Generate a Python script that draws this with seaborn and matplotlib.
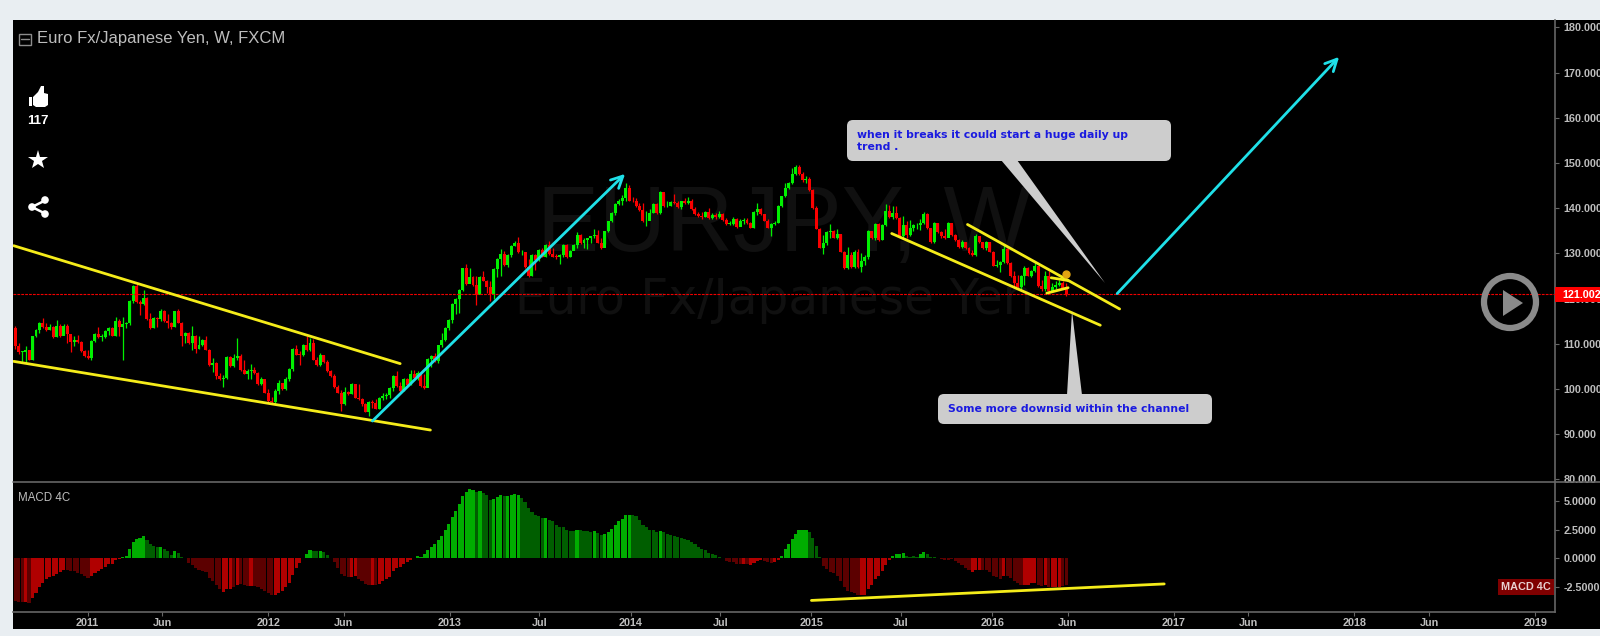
#!/bin/python
import datetime as dt
import pandas as pd
import matplotlib
matplotlib.use('Agg')
from matplotlib import pyplot as plt
from matplotlib import dates as mdates
from matplotlib.patches import FancyBboxPatch, Rectangle, Polygon, Ellipse, Circle
import seaborn as sns

sns.set_theme(style='dark')
plt.rcParams['font.family'] = ['Liberation Sans', 'DejaVu Sans']

# Weekly EUR/JPY bars
first_week = '2010-08-08'
first_open = 113.5
closes = [
	109.5,108.2,108.2,108.7,106.5,111.7,113.1,114.6,113.7,113.1,
	113.7,111.5,113.9,111.7,114.0,112.2,110.4,110.9,110.4,108.4,
	107.3,106.9,110.7,112.2,111.5,111.5,112.9,113.5,111.8,115.1,
	113.7,114.3,114.5,119.4,122.7,119.3,118.7,120.1,115.4,113.4,
	115.7,115.4,117.3,115.0,114.6,113.7,117.2,114.6,111.7,112.4,
	110.2,111.8,108.9,109.8,110.9,108.7,105.3,105.8,102.8,102.1,
	102.5,107.0,105.0,106.9,107.3,104.3,103.4,103.9,104.3,103.6,
	101.0,102.2,99.2,97.3,97.1,99.5,101.4,99.9,102.3,104.5,
	108.9,107.6,107.5,109.7,108.7,110.2,106.5,105.2,107.6,106.0,
	103.9,102.8,100.4,99.2,96.6,99.4,98.9,101.0,98.0,97.7,
	96.6,95.0,97.2,96.9,95.6,98.0,98.4,98.6,100.3,102.8,
	100.6,99.5,102.2,100.8,103.2,102.5,103.6,100.6,100.3,106.7,
	107.3,106.1,109.7,110.9,113.5,115.2,118.9,119.8,122.0,126.7,
	123.3,124.8,122.9,120.9,124.7,124.0,122.6,121.1,126.6,128.8,
	129.9,127.5,129.7,131.7,132.4,130.2,130.2,127.0,124.9,129.7,
	128.6,130.8,129.3,131.9,129.9,129.3,129.2,129.7,131.9,129.2,
	130.6,131.9,134.1,132.3,133.0,133.4,133.8,134.1,132.4,131.2,
	134.9,137.1,138.9,140.9,141.7,142.2,144.4,141.7,141.5,140.4,
	139.5,137.1,137.2,138.9,141.0,138.9,143.6,140.4,140.5,141.4,
	141.1,140.2,141.5,141.1,141.7,139.8,138.8,138.2,138.0,139.1,
	137.8,138.5,138.0,138.7,137.4,136.6,136.6,137.7,135.8,137.1,
	137.4,136.7,135.7,139.1,139.9,138.7,137.2,135.7,136.5,136.8,
	140.6,142.6,144.4,145.5,147.5,149.2,147.5,146.3,146.5,144.1,
	140.0,135.4,131.3,132.3,134.7,135.0,133.5,134.3,130.4,126.8,
	129.7,126.9,130.3,126.9,128.4,129.1,135.0,133.4,136.5,133.0,
	136.2,139.4,138.0,138.9,137.8,133.8,136.3,134.1,135.7,136.2,
	136.2,136.7,138.7,135.6,132.5,136.7,134.7,133.8,133.5,136.7,
	134.1,133.0,131.5,132.5,131.3,130.1,129.7,133.8,132.5,131.2,
	132.5,130.4,127.3,127.5,128.1,131.0,127.9,124.9,123.4,122.5,
	124.9,126.8,125.1,126.0,127.1,122.7,122.2,125.1,121.7,122.5,
	123.1,123.4,122.3,121.0]
highs = [
	113.9,110.2,108.5,109.4,108.7,111.8,113.3,114.8,115.6,114.6,
	114.3,113.9,115.2,114.3,114.3,114.4,111.7,111.7,112.0,110.7,
	108.7,108.7,110.9,112.3,113.7,112.2,113.1,113.7,113.7,116.0,
	115.4,115.9,114.8,119.6,122.9,123.2,119.6,121.8,120.3,116.8,
	115.9,115.9,117.7,117.5,116.5,114.8,117.3,117.7,114.8,112.6,
	112.6,114.0,112.0,111.7,111.1,111.8,108.9,106.9,105.9,103.6,
	103.0,107.2,107.2,107.8,111.3,107.8,106.3,104.5,105.6,104.8,
	103.7,102.6,101.7,100.0,98.2,100.0,101.9,101.3,102.6,104.7,
	109.1,109.8,108.4,110.0,111.7,111.3,111.1,107.0,107.9,107.6,
	106.4,104.2,103.2,100.8,99.7,100.4,99.5,101.4,101.1,101.1,
	97.9,96.9,97.3,97.5,97.8,98.2,99.0,99.0,100.5,103.0,
	103.9,101.5,102.5,102.4,104.1,104.3,103.9,103.7,103.3,106.9,
	107.5,108.0,109.8,112.4,113.7,115.4,119.0,120.1,122.2,126.8,
	127.7,126.8,124.9,124.9,124.9,126.0,124.2,124.0,126.8,129.0,
	131.0,130.6,129.9,131.9,132.8,133.6,130.8,130.4,128.8,129.9,
	129.9,131.0,131.2,132.1,132.7,131.2,129.9,129.9,132.1,132.1,
	130.8,132.1,134.7,134.3,133.3,133.5,133.9,135.4,135.1,133.4,
	135.0,137.2,139.1,141.1,142.0,143.0,145.6,145.2,142.5,142.2,
	141.1,141.1,139.4,139.8,141.1,141.1,143.7,143.3,141.5,141.5,
	143.2,141.5,141.6,142.2,142.5,142.0,140.2,139.2,139.1,139.3,
	140.0,138.9,138.9,139.3,138.9,137.8,137.2,138.0,137.8,137.7,
	137.8,137.8,136.9,139.3,141.1,140.0,138.8,137.6,136.7,137.1,
	140.8,142.8,145.5,145.9,148.9,149.6,149.6,148.0,147.2,146.8,
	144.2,140.4,135.6,134.1,135.0,136.5,135.2,135.5,134.4,130.6,
	131.5,130.4,130.8,131.0,130.1,129.7,135.2,135.0,136.7,136.7,
	136.5,140.9,140.8,140.4,140.4,138.0,138.2,137.1,137.4,136.5,
	136.7,137.7,139.1,138.9,135.7,136.9,136.7,135.0,135.4,136.9,
	136.6,134.3,133.2,133.0,132.6,131.5,130.8,134.3,133.9,132.6,
	132.8,132.6,130.6,128.6,128.4,131.9,131.2,128.0,126.0,125.3,
	125.3,127.1,126.9,126.4,127.9,127.3,124.2,126.0,126.0,123.4,
	123.8,124.2,123.8,123.4]
lows = [
	108.9,107.8,106.0,105.8,106.3,106.4,111.5,112.3,113.5,112.9,
	113.1,111.3,111.5,111.5,112.2,110.1,108.1,109.5,110.1,108.2,
	107.0,106.7,106.5,110.4,111.3,110.6,111.2,112.0,111.7,111.7,
	111.7,106.4,113.5,114.1,119.0,119.0,116.3,118.5,115.2,113.2,
	113.4,113.7,115.1,114.8,113.5,113.3,113.6,114.5,109.6,110.2,
	110.0,108.7,107.9,108.8,109.5,108.6,105.1,103.8,102.1,101.9,
	100.5,102.3,104.8,104.9,106.3,103.9,103.3,102.3,102.3,103.4,
	100.8,100.8,99.0,97.2,96.9,96.7,98.9,99.7,99.7,101.7,
	103.9,107.5,105.4,107.3,108.5,108.5,106.4,105.0,105.0,105.8,
	103.8,102.7,100.3,99.0,95.2,96.4,98.6,98.8,97.9,97.5,
	96.3,94.8,94.0,95.8,95.5,95.5,97.5,97.7,97.9,99.6,
	100.5,99.3,99.6,100.6,100.8,102.2,102.0,100.5,99.9,103.1,
	104.9,105.9,105.8,109.3,110.6,113.1,114.6,116.5,116.8,121.7,
	123.1,123.8,122.7,118.5,121.1,123.8,121.2,119.4,120.0,124.8,
	124.9,127.3,127.0,129.2,131.6,130.1,129.7,126.8,124.8,125.1,
	126.3,128.3,129.1,129.1,129.7,129.2,128.8,127.7,129.1,129.0,
	129.3,130.7,131.2,132.1,131.2,131.0,132.4,133.3,132.3,131.0,
	132.0,134.7,136.9,138.6,140.8,140.8,141.6,141.5,141.3,140.2,
	139.3,136.9,136.1,138.7,138.9,138.7,138.8,140.2,140.3,140.4,
	140.9,140.0,139.9,140.9,141.0,139.7,138.6,138.0,137.7,138.0,
	137.6,137.7,137.7,137.8,137.2,136.3,136.2,136.3,135.6,136.5,
	136.5,136.5,135.6,135.6,138.4,138.4,137.1,135.6,133.9,136.2,
	136.7,140.2,142.4,144.3,145.3,147.4,147.4,145.8,145.5,143.9,
	139.9,135.3,131.2,129.9,131.9,133.4,133.4,133.2,130.3,126.6,
	126.5,126.8,126.8,126.8,125.9,127.5,128.8,133.2,132.9,132.8,
	132.9,136.0,137.8,137.7,137.7,133.5,133.5,133.4,133.9,134.9,
	135.4,135.2,136.6,135.4,132.3,132.4,134.5,133.5,133.2,134.1,
	133.9,132.8,131.3,131.3,131.0,129.8,129.5,129.5,132.3,131.0,
	130.8,130.3,127.1,127.0,125.9,127.9,127.6,124.7,122.3,122.2,
	122.0,122.9,124.9,124.7,125.9,122.5,121.7,121.6,121.5,121.6,
	122.2,122.7,122.2,120.6]

# MACD 4C histogram, same weeks
macd = [
	-3.75,-3.78,-3.81,-3.84,-3.87,-3.46,-3.05,-2.49,-2.11,-1.82,
	-1.64,-1.58,-1.32,-1.17,-0.97,-1.05,-1.11,-1.11,-1.29,-1.38,
	-1.52,-1.70,-1.58,-1.29,-1.08,-0.94,-0.73,-0.53,-0.47,-0.12,
	-0.03,0.09,0.23,0.79,1.47,1.67,1.76,1.99,1.61,1.23,
	1.11,1.03,1.03,0.82,0.64,0.29,0.64,0.44,0.09,0.03,
	-0.41,-0.59,-0.88,-1.05,-1.11,-1.23,-1.70,-1.99,-2.34,-2.70,
	-2.93,-2.70,-2.70,-2.52,-2.29,-2.23,-2.31,-2.37,-2.37,-2.43,
	-2.52,-2.64,-2.81,-3.05,-3.22,-3.16,-3.02,-2.84,-2.52,-2.11,
	-1.41,-0.88,-0.44,0.06,0.35,0.73,0.64,0.64,0.64,0.53,
	0.29,0.03,-0.35,-0.82,-1.32,-1.52,-1.61,-1.61,-1.58,-1.76,
	-1.99,-2.20,-2.34,-2.34,-2.34,-2.23,-1.99,-1.82,-1.61,-1.11,
	-0.82,-0.73,-0.53,-0.35,-0.12,0.06,0.23,0.09,0.35,0.70,
	1.03,1.23,1.64,1.99,2.49,2.99,3.63,4.16,4.75,5.45,
	5.80,6.04,5.98,5.80,5.86,5.74,5.51,5.10,5.22,5.33,
	5.51,5.45,5.45,5.51,5.63,5.57,5.27,4.92,4.40,4.04,
	3.81,3.69,3.52,3.52,3.34,3.28,2.93,2.75,2.75,2.49,
	2.40,2.40,2.52,2.46,2.40,2.40,2.29,2.40,2.23,2.05,
	2.17,2.34,2.58,2.93,3.28,3.46,3.81,3.81,3.81,3.69,
	3.37,2.93,2.70,2.49,2.49,2.29,2.40,2.29,2.17,2.05,
	1.99,1.88,1.76,1.70,1.64,1.47,1.23,1.00,0.82,0.70,
	0.47,0.38,0.26,0.12,0.03,-0.23,-0.35,-0.35,-0.47,-0.53,
	-0.53,-0.53,-0.59,-0.44,-0.23,-0.18,-0.23,-0.35,-0.41,-0.29,
	-0.15,0.23,0.82,1.29,1.70,2.17,2.46,2.46,2.46,2.29,
	1.76,1.05,0.12,-0.64,-0.94,-1.23,-1.29,-1.58,-1.99,-2.52,
	-2.81,-2.93,-2.99,-3.22,-3.22,-3.22,-2.70,-2.29,-1.76,-1.58,
	-1.11,-0.59,-0.15,0.18,0.35,0.35,0.47,0.23,0.12,0.18,
	0.12,0.35,0.53,0.41,0.12,0.09,0.03,-0.06,-0.18,-0.12,
	-0.06,-0.23,-0.41,-0.59,-0.82,-1.05,-1.23,-1.05,-1.05,-1.00,
	-1.05,-1.23,-1.52,-1.64,-1.76,-1.58,-1.52,-1.70,-1.93,-2.17,
	-2.34,-2.29,-2.29,-2.17,-2.11,-2.29,-2.40,-2.34,-2.46,-2.52,
	-2.49,-2.46,-2.40,-2.34]
# G/g bright and dark green, R/r bright and dark red
macd_state = (
	'rrrRrRRRRR' 'RRRRRrrrrr' 'rrRRRRRRRR' 'RGGGGGGGgg' 'ggGgggGggg' 'rrrrrrrrrr'
	'RRRrRrrrRr' 'rrrrrRRRRR' 'RRRGGGggGg' 'ggrrrrrRRr' 'rrrRrRRRRR' 'RRRRRGGGGG'
	'GGGGGGGGGG' 'GGGgGgggGG' 'GgGGGGgggg' 'gggGgggggg' 'ggGggggGgg' 'GGGGGGGGgg'
	'ggggggGggg' 'gggggggggg' 'gggggrrrrr' 'RrRRRRrrrR' 'RGGGGGGGGg' 'gggrrrrrrr'
	'rrrrRRRRRR' 'RRRGGGGggg' 'gGGggggrrr' 'rrrrrrRRRr' 'rrrrrRrrrr' 'rRRRRrrRrR'
	'RRrr')

# Drawn on the chart: start date, start value, end date, end value
price_trends = [
	('2010-08-05', 131.7, '2012-09-23', 105.6),
	('2010-08-05', 106.1, '2012-11-23', 90.9),
	('2015-06-12', 134.4, '2016-08-06', 114.1),
	('2015-11-12', 136.4, '2016-09-14', 117.7),
	('2016-04-29', 124.6, '2016-06-02', 124.0),
	('2016-04-20', 121.2, '2016-06-02', 122.4)]
macd_trend = ('2015-01-01', -3.67, '2016-12-13', -2.23)
up_arrows = [
	('2012-07-29', 92.9, '2013-12-21', 147.6),
	('2016-09-09', 121.1, '2017-12-01', 173.5)]
marker_date, marker_price = '2016-05-29', 125.5
last_price = 121.002

price_ticks = [80, 90, 100, 110, 120, 130, 140, 150, 160, 170, 180]
macd_ticks = [-2.5, 0.0, 2.5, 5.0]
date_ticks = ['2011-01-01','2011-06-01','2012-01-01','2012-06-01','2013-01-01','2013-07-01','2014-01-01','2014-07-01',
	'2015-01-01','2015-07-01','2016-01-01','2016-06-01','2017-01-01','2017-06-01','2018-01-01','2018-06-01','2019-01-01']
date_labels = ['2011','Jun','2012','Jun','2013','Jul','2014','Jul','2015','Jul','2016','Jun','2017','Jun','2018','Jun','2019']

W, H = 1600, 636
GREY = '#bdbdbd'
LINE = '#666666'
YELLOW = '#f5ec1a'
CYAN = '#1fe0e8'

# Assemble table
weeks = pd.date_range(first_week, periods=len(closes), freq='7D')
df = pd.DataFrame({'week': mdates.date2num(weeks), 'close': closes, 'high': highs, 'low': lows,
	'macd': macd, 'state': list(macd_state)})
df['open'] = [first_open] + closes[:-1]
df['color'] = ['#00f000' if c >= o else '#fa0000' for c, o in zip(df.close, df.open)]

def num(d):
	return mdates.date2num(dt.date.fromisoformat(d))

def rect(l, t, r, b):
	return [l/W, 1-b/H, (r-l)/W, (b-t)/H]

fig = plt.figure(figsize=(W/100, H/100), dpi=100, facecolor='#e9eef2')

# Black page behind both panes
back = fig.add_axes(rect(13, 20, W, 629), facecolor='black')
back.set_xticks([])
back.set_yticks([])
for s in back.spines.values():
	s.set_visible(False)

ax = fig.add_axes(rect(13, 20, 1555, 482), facecolor='none')
ax2 = fig.add_axes(rect(13, 482, 1555, 612), facecolor='none', sharex=ax)

# Watermarks
ax.text(0.3395, 0.553, 'EURJPY, W', transform=ax.transAxes, fontsize=67, color='#101010', ha='left', va='center', zorder=0)
ax.text(0.3255, 0.395, 'Euro Fx/Japanese Yen', transform=ax.transAxes, fontsize=35, color='#101010', ha='left', va='center',
	family=['DejaVu Sans'], zorder=0)

# Candles
ax.vlines(df.week, df.low, df.high, colors=df.color, linewidth=0.9, zorder=2)
ax.bar(df.week, (df.close-df.open).abs().clip(lower=0.15), bottom=df[['open','close']].min(axis=1),
	width=6.0, color=df.color, linewidth=0, zorder=3)

# Last price line
ax.axhline(last_price, color='#f00000', linewidth=0.8, linestyle=(0, (2.5, 1)), zorder=4)

# Trend lines and arrows
for d0, p0, d1, p1 in price_trends:
	sns.lineplot(x=[num(d0), num(d1)], y=[p0, p1], ax=ax, color=YELLOW, linewidth=2, zorder=5, estimator=None, sort=False)
ax.plot(num(marker_date), marker_price, 'o', color='#e3a512', markersize=5, zorder=6)
for d0, p0, d1, p1 in up_arrows:
	ax.annotate('', xy=(num(d1), p1), xytext=(num(d0), p0), zorder=6,
		arrowprops=dict(arrowstyle='->,head_length=0.7,head_width=0.35', color=CYAN, linewidth=2, shrinkA=0, shrinkB=0))

ax.set_ylim(79.4, 181.66)

# MACD histogram
sns.barplot(data=df, x='week', y='macd', hue='state', native_scale=True, dodge=False, width=0.9, ax=ax2, legend=False,
	palette={'G': '#00ad00', 'g': '#005e00', 'R': '#b00000', 'r': '#5c0000'}, saturation=1, linewidth=0, errorbar=None, antialiased=False)
sns.lineplot(x=[num(macd_trend[0]), num(macd_trend[2])], y=[macd_trend[1], macd_trend[3]], ax=ax2, color=YELLOW, linewidth=2, zorder=5, estimator=None, sort=False)
ax2.set_ylim(-4.68, 6.67)

# Axes
for a in (ax, ax2):
	a.grid(False)
	a.set_xlabel('')
	a.set_ylabel('')
	for s in ('left', 'top'):
		a.spines[s].set_visible(False)
	for s in ('right', 'bottom'):
		a.spines[s].set_color(LINE)
		a.spines[s].set_linewidth(1.2)
	a.yaxis.tick_right()
	a.tick_params(axis='y', which='major', right=True, length=3, width=0.8, color=LINE, pad=3, labelsize=7.8, labelcolor=GREY)
ax.spines['bottom'].set_visible(False)
ax.tick_params(axis='x', which='both', bottom=False, labelbottom=False)

ax.set_yticks(price_ticks)
ax.set_yticklabels(['%.3f' % t for t in price_ticks], fontweight='bold')
ax2.set_yticks(macd_ticks)
ax2.set_yticklabels(['%.4f' % t for t in macd_ticks], fontweight='bold')
ax2.set_xticks([num(d) for d in date_ticks])
ax2.set_xticklabels(date_labels, fontweight='bold')
ax2.tick_params(axis='x', bottom=True, length=3, width=0.8, color=LINE, pad=1.5, labelsize=7.8, labelcolor=GREY)
ax.set_xlim(mdates.date2num(dt.date(2011, 1, 1)) - 150.4, mdates.date2num(dt.date(2011, 1, 1)) + 2961.7)

# Overlay in pixel units for the page furniture
ov = fig.add_axes([0, 0, 1, 1], facecolor='none')
ov.set_xlim(0, W)
ov.set_ylim(H, 0)
ov.axis('off')

ov.plot([13, W], [482, 482], color=LINE, linewidth=1.2)

# Header
ov.add_patch(Rectangle((18.5, 33.5), 12, 11, fill=False, edgecolor='#8c8c8c', linewidth=1))
ov.plot([20.5, 28.5], [39, 39], color='#8c8c8c', linewidth=1)
ov.text(37, 38.5, 'Euro Fx/Japanese Yen, W, FXCM', color=GREY, fontsize=12, va='center')
ov.text(18, 498, 'MACD 4C', color=GREY, fontsize=8.3, va='center')

# Side buttons
thumb = [(33,97),(38,92),(41,86),(44,86),(44,93),(48,94),(48,105),(45,107),(36,107),(33,105)]
ov.add_patch(Polygon(thumb, closed=True, color='white', linewidth=0))
ov.add_patch(Rectangle((28.5, 97), 3, 9, color='white', linewidth=0))
ov.text(38, 121.5, '117', color='white', fontsize=9.5, fontweight='bold', ha='center', va='center')
ov.plot(38, 160, marker='*', color='white', markersize=15, markeredgewidth=0)
ov.plot([46, 32, 46], [200, 207, 214], color='white', linewidth=1.8)
for cx, cy in [(45, 200), (32, 207), (45, 214)]:
	ov.add_patch(Circle((cx, cy), 3.8, color='white', linewidth=0))

# Speech bubbles
for l, t, r, b in [(847, 120, 1171, 161), (938, 394, 1212, 424)]:
	ov.add_patch(FancyBboxPatch((l+6, t+6), r-l-12, b-t-12, boxstyle='round,pad=6,rounding_size=6', facecolor='#cdcdcd', edgecolor='none', zorder=7))
ov.add_patch(Polygon([(1001, 160), (1017, 160), (1105, 283)], closed=True, facecolor='#cdcdcd', edgecolor='none', zorder=7))
ov.add_patch(Polygon([(1067, 395), (1082, 395), (1072, 311)], closed=True, facecolor='#cdcdcd', edgecolor='none', zorder=7))
bubble_font = dict(family=['DejaVu Sans'], fontweight='bold', fontsize=7.8, color='#1a1ae0', zorder=8, va='center')
ov.text(857, 135.5, 'when it breaks it could start a huge daily up', **bubble_font)
ov.text(857, 147, 'trend .', **bubble_font)
ov.text(948, 409, 'Some more downsid within the channel', **bubble_font)

# Price and MACD tags
ov.add_patch(Rectangle((1555, 287), 45, 15, color='#ff0000', linewidth=0, zorder=7))
ov.text(1562, 294.8, '121.002', color='white', fontsize=7.8, fontweight='bold', va='center', zorder=8)
ov.add_patch(Rectangle((1498, 579), 56, 16, color='#7f0000', linewidth=0, zorder=7))
ov.text(1526, 587.3, 'MACD 4C', color='#e8d0d0', fontsize=7.8, fontweight='bold', ha='center', va='center', zorder=8)

# Play button
ov.add_patch(Ellipse((1510, 302), 52, 52, fill=False, edgecolor='#8a8a8a', linewidth=4.5, zorder=7))
ov.add_patch(Polygon([(1503, 290), (1503, 316), (1523, 303)], closed=True, color='#8a8a8a', linewidth=0, zorder=7))

fig.savefig('out.png', dpi=100, facecolor=fig.get_facecolor())
